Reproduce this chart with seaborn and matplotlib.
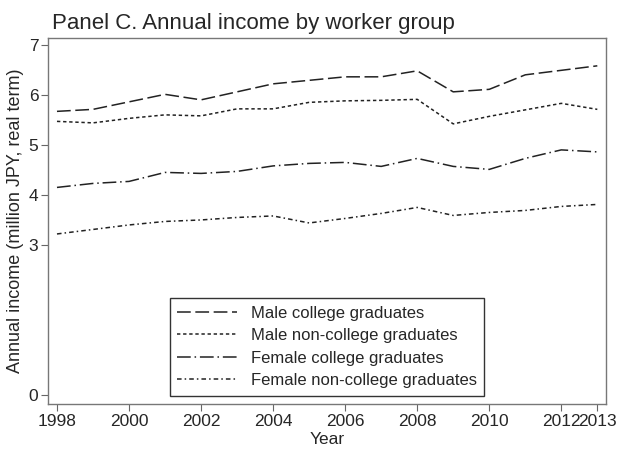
import pandas as pd
import seaborn as sns
import matplotlib.pyplot as plt

years = list(range(1998, 2014))

male_college = [5.67, 5.71, 5.86, 6.01, 5.90, 6.06, 6.22, 6.29, 6.36, 6.36, 6.48, 6.06, 6.11, 6.40, 6.49, 6.58]
male_noncollege = [5.47, 5.44, 5.53, 5.60, 5.58, 5.72, 5.72, 5.85, 5.88, 5.89, 5.91, 5.42, 5.57, 5.70, 5.83, 5.71]
female_college = [4.15, 4.23, 4.27, 4.45, 4.43, 4.47, 4.58, 4.63, 4.65, 4.57, 4.73, 4.57, 4.51, 4.73, 4.90, 4.86]
female_noncollege = [3.22, 3.31, 3.40, 3.47, 3.50, 3.55, 3.58, 3.44, 3.53, 3.63, 3.75, 3.59, 3.65, 3.69, 3.77, 3.81]

groups = ["Male college graduates", "Male non-college graduates",
          "Female college graduates", "Female non-college graduates"]

xticks = [1998, 2000, 2002, 2004, 2006, 2008, 2010, 2012, 2013]
yticks = [0, 3, 4, 5, 6, 7]

df = pd.DataFrame({
    "Year": years * 4,
    "income": male_college + male_noncollege + female_college + female_noncollege,
    "group": [g for g in groups for _ in years],
})

sns.set_style("white")
plt.rcParams['font.family'] = ['Liberation Sans', 'DejaVu Sans']

fig = plt.figure(figsize=(6.19, 4.5), dpi=100)
ax = fig.add_axes([0.0775, 0.102, 0.902, 0.814])

dashes = {
    groups[0]: (9, 3),
    groups[1]: (2.2, 1.8),
    groups[2]: (9, 2.5, 1, 2.5),
    groups[3]: (3, 2, 1, 2),
}

sns.lineplot(data=df, x="Year", y="income", hue="group", style="group",
             hue_order=groups, style_order=groups,
             palette=["#222222"] * 4, dashes=dashes, linewidth=1.1, ax=ax)

ax.set_xlim(1997.75, 2013.25)
ax.set_ylim(-0.18, 7.14)
ax.set_xticks(xticks)
ax.set_yticks(yticks)
ax.tick_params(axis="both", direction="out", length=5, width=0.8,
               color="#666666", labelsize=12.5, pad=2,
               bottom=True, left=True)
for s in ax.spines.values():
    s.set_color("#777777")
    s.set_linewidth(1.0)

ax.set_xlabel("Year", fontsize=12.5, labelpad=2)
ax.set_ylabel("Annual income (million JPY, real term)", fontsize=13, labelpad=3)

leg = ax.legend(loc="lower center", bbox_to_anchor=(0.5, 0.0), fontsize=12,
                frameon=True, fancybox=False, handlelength=3.6,
                borderpad=0.45, labelspacing=0.45, handletextpad=0.8)
leg.get_frame().set_edgecolor("#333333")
leg.get_frame().set_linewidth(1.0)
leg.get_frame().set_alpha(1)

fig.text(0.084, 0.936, "Panel C. Annual income by worker group",
         fontsize=16, ha="left", va="baseline")

fig.savefig("out.png", dpi=100)
